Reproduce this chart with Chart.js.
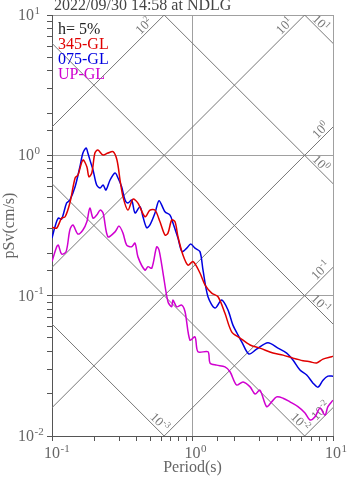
<!DOCTYPE html>
<html>
<head>
<meta charset="utf-8">
<script src="https://cdn.jsdelivr.net/npm/chart.js@4.4.1/dist/chart.umd.min.js"></script>
<style>
  body { margin: 0; background: #fff; }
</style>
</head>
<body>
<canvas id="spec" width="347" height="478"></canvas>
<script>
const FONT = "'Liberation Serif', 'Times New Roman', serif";

// period (s) and pSv (cm/s)
const redPeriod = [0.1, 0.108, 0.117, 0.124, 0.134, 0.146, 0.153, 0.166, 0.177, 0.183, 0.192, 0.202, 0.212, 0.231, 0.25, 0.272, 0.29, 0.305, 0.32, 0.347, 0.377, 0.409, 0.459, 0.498, 0.541, 0.587, 0.637, 0.669, 0.711, 0.751, 0.788, 0.855, 0.929, 1.01, 1.13, 1.23, 1.37, 1.52, 1.70, 1.90, 2.18, 2.57, 3.02, 3.74, 4.41, 5.19, 6.12, 6.86, 7.65, 8.49, 9.79, 10];
const redPsv = [0.307, 0.303, 0.357, 0.365, 0.457, 0.689, 0.724, 0.926, 0.829, 0.704, 0.748, 1.038, 1.091, 1.005, 1.038, 1.062, 0.926, 0.667, 0.507, 0.407, 0.488, 0.457, 0.365, 0.407, 0.407, 0.336, 0.270, 0.279, 0.346, 0.336, 0.263, 0.195, 0.165, 0.175, 0.145, 0.119, 0.1043, 0.0982, 0.0752, 0.0553, 0.0499, 0.0445, 0.0423, 0.0390, 0.0377, 0.0359, 0.0344, 0.0338, 0.0331, 0.0353, 0.0367, 0.037];

const bluePeriod = [0.1, 0.105, 0.111, 0.117, 0.127, 0.134, 0.146, 0.158, 0.166, 0.175, 0.180, 0.189, 0.196, 0.208, 0.220, 0.231, 0.242, 0.259, 0.281, 0.295, 0.313, 0.331, 0.347, 0.369, 0.390, 0.423, 0.444, 0.472, 0.498, 0.541, 0.578, 0.637, 0.692, 0.726, 0.788, 0.842, 0.910, 0.971, 1.042, 1.130, 1.188, 1.289, 1.446, 1.614, 1.79, 1.94, 2.11, 2.24, 2.52, 2.86, 3.44, 4.06, 4.68, 5.19, 5.82, 6.50, 7.21, 7.82, 8.49, 9.20, 10];
const bluePsv = [0.257, 0.310, 0.357, 0.351, 0.457, 0.480, 0.597, 0.829, 1.038, 1.127, 1.038, 0.882, 0.785, 0.614, 0.585, 0.614, 0.566, 0.667, 0.748, 0.689, 0.597, 0.480, 0.457, 0.480, 0.388, 0.430, 0.365, 0.305, 0.319, 0.388, 0.475, 0.396, 0.375, 0.329, 0.257, 0.206, 0.218, 0.233, 0.218, 0.206, 0.152, 0.0982, 0.0816, 0.0931, 0.0789, 0.0617, 0.0524, 0.0469, 0.0384, 0.0416, 0.0462, 0.0423, 0.0390, 0.0348, 0.0295, 0.0272, 0.0238, 0.0223, 0.0250, 0.0267, 0.0267];

const upPeriod = [0.1, 0.108, 0.111, 0.117, 0.126, 0.134, 0.141, 0.153, 0.166, 0.177, 0.186, 0.196, 0.208, 0.220, 0.231, 0.250, 0.281, 0.300, 0.320, 0.340, 0.369, 0.390, 0.409, 0.459, 0.482, 0.513, 0.556, 0.578, 0.617, 0.669, 0.711, 0.726, 0.772, 0.838, 0.885, 0.959, 1.042, 1.094, 1.289, 1.333, 1.487, 1.702, 1.85, 2.06, 2.29, 2.57, 2.79, 3.02, 3.37, 3.66, 3.97, 4.41, 4.94, 5.63, 6.32, 6.86, 7.45, 8.08, 8.77, 9.20, 10];
const upPsv = [0.175, 0.223, 0.229, 0.198, 0.206, 0.294, 0.319, 0.275, 0.294, 0.336, 0.421, 0.357, 0.375, 0.407, 0.388, 0.263, 0.285, 0.313, 0.279, 0.229, 0.223, 0.237, 0.189, 0.152, 0.161, 0.157, 0.223, 0.211, 0.145, 0.0905, 0.0833, 0.0931, 0.0833, 0.0857, 0.0768, 0.0482, 0.0509, 0.0398, 0.0398, 0.0331, 0.0320, 0.0311, 0.0287, 0.0231, 0.0243, 0.0224, 0.0199, 0.0212, 0.0162, 0.0175, 0.0190, 0.0186, 0.0175, 0.0162, 0.0146, 0.0130, 0.0137, 0.0158, 0.0141, 0.0162, 0.0180];

const seriesNames = ["345-GL", "075-GL", "UP-GL"];
const seriesColors = ["#e00000", "#0000e0", "#d000d0"];

// tick labels (decades)
const xTicks = [0.1, 1, 10];
const xTickExp = ["-1", "0", "1"];
const yTicks = [0.01, 0.1, 1, 10];
const yTickExp = ["-2", "-1", "0", "1"];

// tripartite guide lines: acceleration (cm/s2) and displacement (cm)
const accelLines = [100, 10, 1, 0.1, 0.01];
const accelExp = ["2", "1", "0", "-1", "-2"];
const dispLines = [10, 1, 0.1, 0.01, 0.001];
const dispExp = ["1", "0", "-1", "-2", "-3"];

const titleText = "2022/09/30 14:58 at NDLG";
const dampText = "h= 5%";

function isDecade(v) {
  const l = Math.log10(v);
  return Math.abs(l - Math.round(l)) < 1e-6;
}

function toPoints(ts, vs) {
  return ts.map((t, i) => ({ x: t, y: vs[i] }));
}

// "10" with a raised exponent
function drawPow(ctx, x, y, exp, size, align) {
  ctx.font = size + "px " + FONT;
  const w = ctx.measureText("10").width;
  const x0 = align === "center" ? x - w / 2 : x - w;
  ctx.textAlign = "left";
  ctx.textBaseline = "alphabetic";
  ctx.fillText("10", x0, y);
  ctx.font = Math.round(size * 0.7) + "px " + FONT;
  ctx.fillText(exp, x0 + w + 0.5, y - size * 0.4);
}

function drawDiagLabel(ctx, cx, cy, rot, exp) {
  ctx.save();
  ctx.translate(cx, cy);
  ctx.rotate(rot);
  ctx.font = "13px " + FONT;
  const w1 = ctx.measureText("10").width;
  ctx.font = "9px " + FONT;
  const w2 = ctx.measureText(exp).width;
  const x0 = -(w1 + w2) / 2;
  ctx.textAlign = "left";
  ctx.textBaseline = "middle";
  ctx.font = "13px " + FONT;
  ctx.fillText("10", x0, 1);
  ctx.font = "9px " + FONT;
  ctx.fillText(exp, x0 + w1, -3);
  ctx.restore();
}

const tripartite = {
  id: "tripartite",
  beforeDatasetsDraw(chart) {
    const { ctx, chartArea: a, scales: { x, y } } = chart;
    const tMin = x.min, tMax = x.max, vMin = y.min, vMax = y.max;
    const r2 = Math.SQRT2;
    ctx.save();
    ctx.beginPath();
    ctx.rect(a.left, a.top, a.right - a.left, a.bottom - a.top);
    ctx.clip();
    ctx.strokeStyle = "#777";
    ctx.lineWidth = 1;
    accelLines.forEach(acc => {
      const f = t => acc * t / (2 * Math.PI);
      ctx.beginPath();
      ctx.moveTo(x.getPixelForValue(tMin), y.getPixelForValue(f(tMin)));
      ctx.lineTo(x.getPixelForValue(tMax), y.getPixelForValue(f(tMax)));
      ctx.stroke();
    });
    dispLines.forEach(d => {
      const g = t => 2 * Math.PI * d / t;
      ctx.beginPath();
      ctx.moveTo(x.getPixelForValue(tMin), y.getPixelForValue(g(tMin)));
      ctx.lineTo(x.getPixelForValue(tMax), y.getPixelForValue(g(tMax)));
      ctx.stroke();
    });
    ctx.restore();

    ctx.save();
    ctx.fillStyle = "#777";
    accelLines.forEach((acc, i) => {
      const tEnd = Math.min(tMax, 2 * Math.PI * vMax / acc);
      const vEnd = acc * tEnd / (2 * Math.PI);
      if (tEnd < tMin || vEnd < vMin) return;
      const px = x.getPixelForValue(tEnd), py = y.getPixelForValue(vEnd);
      const top = tEnd < tMax;
      const s = top ? 22 : 11, p = 7;
      drawDiagLabel(ctx, px + (-s - p) / r2, py + (s - p) / r2, -Math.PI / 4, accelExp[i]);
    });
    dispLines.forEach((d, i) => {
      const tEnd = Math.min(tMax, 2 * Math.PI * d / vMin);
      const vEnd = 2 * Math.PI * d / tEnd;
      if (tEnd < tMin || vEnd > vMax) return;
      const px = x.getPixelForValue(tEnd), py = y.getPixelForValue(vEnd);
      const right = tEnd >= tMax;
      const s = right ? 23 : 13, p = right ? 6 : 7;
      drawDiagLabel(ctx, px + (-s + p) / r2, py + (-s - p) / r2, Math.PI / 4, dispExp[i]);
    });
    ctx.restore();
  },
  afterDraw(chart) {
    const { ctx, scales: { x, y } } = chart;
    ctx.save();
    ctx.fillStyle = "#666";
    xTicks.forEach((v, i) => drawPow(ctx, x.getPixelForValue(v), 458, xTickExp[i], 16, "center"));
    yTicks.forEach((v, i) => drawPow(ctx, 34, y.getPixelForValue(v) + 5, yTickExp[i], 16, "right"));

    ctx.textAlign = "left";
    ctx.textBaseline = "alphabetic";
    ctx.font = "16px " + FONT;
    ctx.fillStyle = "#444";
    ctx.fillText(titleText, 54, 10);

    ctx.fillStyle = "#222";
    ctx.fillText(dampText, 58, 34);
    seriesNames.forEach((n, i) => {
      ctx.fillStyle = seriesColors[i];
      ctx.fillText(n, 58, 49 + i * 15);
    });
    ctx.restore();
  }
};

const gridOpts = {
  color: c => (c.tick && isDecade(c.tick.value)) ? "#a0a0a0" : "rgba(0,0,0,0)",
  tickColor: "#555",
  tickLength: 5,
  lineWidth: 1
};

new Chart(document.getElementById("spec"), {
  type: "line",
  data: {
    datasets: [
      { label: seriesNames[0], data: toPoints(redPeriod, redPsv), borderColor: seriesColors[0] },
      { label: seriesNames[1], data: toPoints(bluePeriod, bluePsv), borderColor: seriesColors[1] },
      { label: seriesNames[2], data: toPoints(upPeriod, upPsv), borderColor: seriesColors[2] }
    ].map(d => Object.assign(d, { borderWidth: 1.5, pointRadius: 0, tension: 0.3, fill: false }))
  },
  options: {
    responsive: false,
    devicePixelRatio: 1,
    animation: false,
    layout: { padding: { top: 15, right: 14, left: 0, bottom: 0 } },
    plugins: { legend: { display: false }, tooltip: { enabled: false } },
    scales: {
      x: {
        type: "logarithmic",
        min: 0.1,
        max: 10,
        afterFit(s) { s.height = 42; },
        border: { color: "#555", width: 1 },
        grid: gridOpts,
        ticks: { autoSkip: false, maxRotation: 0, callback: () => "" },
        title: { display: true, text: "Period(s)", color: "#666", font: { family: FONT, size: 16 }, padding: { top: 0, bottom: 1 } }
      },
      y: {
        type: "logarithmic",
        min: 0.01,
        max: 10,
        afterFit(s) { s.width = 52; },
        border: { color: "#555", width: 1 },
        grid: gridOpts,
        ticks: { autoSkip: false, callback: () => "" },
        title: { display: true, text: "pSv(cm/s)", color: "#666", font: { family: FONT, size: 16 }, padding: { top: 0, bottom: 0 } }
      }
    }
  },
  plugins: [tripartite]
});
</script>
</body>
</html>
